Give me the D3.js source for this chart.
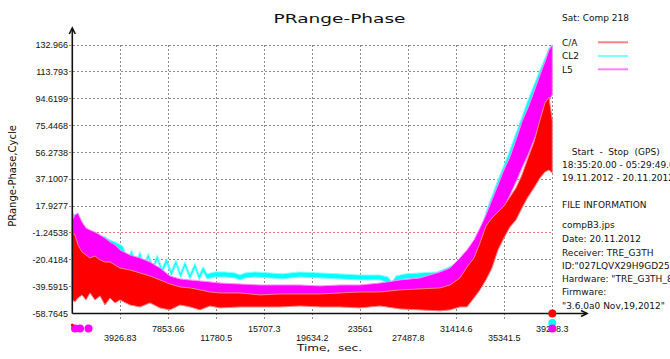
<!DOCTYPE html>
<html><head><meta charset="utf-8">
<script src="https://cdn.jsdelivr.net/npm/d3@7"></script>
<style>body{margin:0;background:#fff} svg{display:block} text{white-space:pre}</style>
</head><body><svg id="c" width="670" height="359"></svg>
<script>
// ---- tick values / labels ----
const yTicks = [-58.7645,-39.5915,-20.4184,-1.24538,17.9277,37.1007,56.2738,75.4468,94.6199,113.793,132.966];
const yTickLabels = ["-58.7645","-39.5915","-20.4184","-1.24538","17.9277","37.1007","56.2738","75.4468","94.6199","113.793","132.966"];
const xTicks = [0,3926.83,7853.66,11780.5,15707.3,19634.2,23561,27487.8,31414.6,35341.5,39268.3];
const xTickLabels = ["","3926.83","7853.66","11780.5","15707.3","19634.2","23561","27487.8","31414.6","35341.5","39268.3"];
const refLevel = -1.24538;

// ---- series (time in s, envelope high / low in cycles) ----
const tCommon = [0,221,466,793,1121,1448,1857,2266,2675,3084,3493,3902,4720,5538,6356,7174,7992,8810,9628,10446,11264,12082,13718,15354,16990,18626,20262,21898,23534,25170,26806,28442,30078,30896,31714,32287,32859,33350,33841,34332,34823,35314,35805,36295,36786,37277,37768,38259,38668,38996,39268];

const caHigh = [-1.3,-2.7,-9.8,-14.8,-17.0,-19.1,-17.7,-20.5,-22.0,-22.0,-24.1,-26.3,-27.7,-29.8,-32.0,-34.8,-37.7,-39.8,-40.5,-41.9,-43.4,-44.1,-44.1,-45.5,-44.8,-44.8,-44.8,-44.1,-43.4,-43.4,-41.9,-41.2,-40.5,-38.4,-33.4,-25.6,-19.1,-8.4,3.7,9.4,13.7,18.0,24.4,30.9,40.2,52.3,63.7,79.4,91.6,95.8,79.4];
const caLow  = [-49.1,-50.5,-47.7,-45.5,-49.1,-44.1,-49.1,-46.2,-52.7,-47.7,-51.2,-49.1,-52.7,-54.1,-51.2,-54.8,-56.2,-52.7,-54.1,-56.2,-53.4,-54.8,-54.1,-54.1,-54.1,-53.4,-54.1,-54.1,-54.8,-53.4,-55.5,-56.2,-56.9,-56.2,-54.1,-54.1,-47.7,-41.9,-34.8,-26.3,-13.4,-4.8,3.0,8.0,16.6,24.4,30.9,38.0,42.3,43.7,41.6];

const l5High = [8.0,11.6,13.0,6.6,2.3,0.8,-0.6,-2.7,-4.8,-7.7,-9.8,-13.4,-17.0,-19.1,-22.0,-26.3,-32.0,-34.1,-34.8,-35.5,-36.2,-37.0,-37.7,-38.4,-38.4,-38.4,-39.1,-38.4,-38.4,-37.0,-34.8,-33.4,-29.1,-26.3,-19.1,-13.4,-6.3,2.3,11.6,22.3,33.0,43.7,53.0,65.1,78.0,88.0,99.4,111.5,120.8,129.4,132.97];
const l5Low  = [-17.0,-22.0,-22.0,-24.1,-26.3,-27.7,-29.1,-30.5,-32.0,-32.7,-34.8,-36.2,-37.7,-39.1,-40.5,-41.9,-43.4,-44.1,-44.8,-45.5,-45.5,-46.2,-46.9,-47.7,-48.4,-47.7,-49.1,-49.1,-49.1,-49.8,-50.5,-51.2,-49.1,-45.5,-41.9,-38.4,-31.3,-22.0,-13.4,-2.7,6.6,16.6,25.9,35.1,45.1,54.4,65.1,75.8,86.6,93.7,97.3];

const tCL2 = [0,221,466,793,1121,1448,1857,2266,2675,3084,3493,3820,4172,4515,4859,5194,5537,5881,6217,6585,6953,7337,7722,8098,8483,8851,9219,9628,10037,10380,10716,11018,11673,12491,13309,13718,14127,14945,16172,17235,17808,18626,20262,21898,23534,25170,25825,26152,26479,27215,28442,29833,30651,31469,32287,32859,33350,33841,34332,34823,35314,35805,36295,36786,37277,37768,38259,38668,38996,39268];
const cl2High = [13.0,11.6,4.4,2.3,0.8,-0.6,-1.3,-2.7,-4.1,-6.3,-7.7,-9.1,-11.0,-20.7,-13.4,-22.5,-14.6,-23.7,-15.8,-24.9,-17.0,-26.7,-19.3,-28.5,-20.5,-29.7,-21.8,-30.9,-22.9,-31.2,-25.3,-30.5,-29.1,-29.1,-29.8,-31.3,-29.8,-29.1,-29.8,-30.5,-29.8,-29.1,-29.8,-30.5,-31.3,-31.3,-32.7,-36.2,-32.0,-30.5,-29.8,-29.1,-26.3,-22.7,-17.0,-12.0,-3.4,13.7,25.2,36.6,47.3,58.0,70.1,81.6,93.7,104.4,115.1,123.7,130.8,132.97];
const cl2Low  = [-6.3,-13.4,-19.1,-22.0,-24.1,-22.0,-19.1,-19.1,-20.5,-20.5,-22.0,-22.0,-14.6,-24.3,-17.0,-26.1,-18.2,-27.3,-19.4,-28.5,-20.6,-30.3,-22.9,-32.1,-24.1,-33.3,-25.4,-34.4,-26.5,-34.8,-28.9,-34.1,-32.7,-32.7,-33.4,-34.8,-33.4,-32.7,-33.4,-34.1,-33.4,-32.7,-33.4,-34.1,-34.8,-34.8,-37.0,-40.5,-35.5,-34.1,-33.4,-32.7,-32.0,-29.1,-26.3,-22.0,-13.4,-2.7,11.6,22.3,33.0,42.3,54.4,65.1,75.8,86.6,97.3,104.4,113.7,115.1];

// marks below the time axis (seconds)
const caMarks = [0, 39268.3];
const cl2Marks = [39268.3];
const l5Marks = [221, 630, 1325, 39268.3];

const seriesNames = ["C/A","CL2","L5"];
const infoLines = ["compB3.jps","Date: 20.11.2012","Receiver: TRE_G3TH","ID:\"027LQVX29H9GD25I","Hardware: \"TRE_G3TH_8","Firmware:","\"3.6.0a0 Nov,19,2012\""];

// ---- drawing ----
const svg = d3.select("#c");
svg.append("rect").attr("width",670).attr("height",359).attr("fill","#fff");
const x = d3.scaleLinear().domain([0,39268.3]).range([72.3,552.3]);
const y = d3.scaleLinear().domain([-58.7645,132.966]).range([313.5,45]);
const gridCol = "#8a8a8a";

// horizontal grid
yTicks.forEach((v,i)=>{
  if(i===0) return;
  svg.append("line").attr("x1",69).attr("x2",x(39268.3)).attr("y1",y(v)).attr("y2",y(v))
    .attr("stroke", v===refLevel ? "#f07070" : gridCol).attr("stroke-width",1)
    .attr("stroke-dasharray","2,2").attr("shape-rendering","crispEdges");
});
// vertical grid
xTicks.forEach((v,i)=>{
  if(i===0) return;
  svg.append("line").attr("x1",x(v)).attr("x2",x(v)).attr("y1",y(132.966))
    .attr("y2", i===xTicks.length-1 ? y(-58.7645) : 320)
    .attr("stroke",gridCol).attr("stroke-width",1).attr("stroke-dasharray","2,2")
    .attr("shape-rendering","crispEdges");
});

// series bands
function band(ts, hi, lo){ return ts.map((t,i)=>({t, hi:hi[i], lo:lo[i]})); }
const area = d3.area().x(d=>x(d.t)).y0(d=>y(d.lo)).y1(d=>y(d.hi));
const bands = [
  {data:band(tCL2,cl2High,cl2Low), fill:"#00ffff", edge:"#7fffff"},
  {data:band(tCommon,l5High,l5Low), fill:"#ff00ff", edge:"#ff88ff"},
  {data:band(tCommon,caHigh,caLow), fill:"#ff0000", edge:"#ff8080"}
];
bands.forEach(b=>{
  svg.append("path").attr("d",area(b.data)).attr("fill",b.fill)
    .attr("stroke",b.edge).attr("stroke-width",1).attr("stroke-linejoin","round");
});

// axes
const ax = svg.append("g").attr("stroke","#111").attr("stroke-width",1.6).attr("fill","none");
ax.append("line").attr("x1",x(0)).attr("x2",x(0)).attr("y1",y(-58.7645)).attr("y2",28);
ax.append("path").attr("d",`M${x(0)-3},${34} L${x(0)},${28} L${x(0)+3},${34}`);
ax.append("line").attr("x1",x(0)).attr("x2",587).attr("y1",y(-58.7645)).attr("y2",y(-58.7645));
ax.append("path").attr("d",`M${581},${y(-58.7645)-3} L${587},${y(-58.7645)} L${581},${y(-58.7645)+3}`);

// tick labels
const tickFont = "'Liberation Sans', Arial, sans-serif";
yTicks.forEach((v,i)=>{
  svg.append("text").attr("x",68).attr("y",y(v)).attr("dy","0.35em").attr("text-anchor","end")
    .attr("font-family",tickFont).attr("font-size",9).attr("fill","#111").text(yTickLabels[i]);
});
xTicks.forEach((v,i)=>{
  if(!xTickLabels[i]) return;
  svg.append("text").attr("x",x(v)).attr("y", i%2===1 ? 341 : 331.5).attr("text-anchor","middle")
    .attr("font-family",tickFont).attr("font-size",9).attr("fill","#111").text(xTickLabels[i]);
});

// marks under axis
const markRow = {"C/A":[325,313.5], "CL2":[323,323], "L5":[328.5,328.5]};
function drawMarks(ts, name, col){
  ts.forEach(t=>{
    const left = t < 20000;
    svg.append("circle").attr("cx",x(t)).attr("cy", left ? markRow[name][0] : markRow[name][1])
      .attr("r", (name==="C/A" && left) ? 1.5 : 4).attr("fill",col);
  });
}
drawMarks(cl2Marks,"CL2","#00ffff");
drawMarks(l5Marks,"L5","#ff00ff");
drawMarks(caMarks,"C/A","#ff0000");

// titles
svg.append("text").attr("x",273.5).attr("y",23).attr("textLength",132).attr("lengthAdjust","spacingAndGlyphs")
  .attr("font-family","'DejaVu Sans', sans-serif").attr("font-size",12).attr("fill","#111").text("PRange-Phase");
svg.append("text").attr("x",297).attr("y",351).attr("textLength",65).attr("lengthAdjust","spacingAndGlyphs")
  .attr("font-family","'DejaVu Sans', sans-serif").attr("font-size",9.5).attr("fill","#111").text("Time,  sec.");
svg.append("text").attr("transform","translate(15.5,176) rotate(-90)").attr("text-anchor","middle")
  .attr("font-family","'DejaVu Sans', sans-serif").attr("font-size",10).attr("fill","#111").text("PRange-Phase,Cycle");

// right panel
const rf = "'DejaVu Sans', sans-serif";
function rt(xp, yp, s){ svg.append("text").attr("x",xp).attr("y",yp).attr("font-family",rf).attr("font-size",9).attr("fill","#111").text(s); }
rt(562,20.8,"Sat: Comp 218");
const legCols = ["#ff8080","#80ffff","#ff80ff"];
const legY = [42.3,56,69.3];
seriesNames.forEach((n,i)=>{
  rt(562, legY[i]+3.3, n);
  svg.append("line").attr("x1",598).attr("x2",628).attr("y1",legY[i]).attr("y2",legY[i])
    .attr("stroke",legCols[i]).attr("stroke-width",2);
});
rt(571.7,154.5,"Start  -  Stop  (GPS)");
rt(562,167.5,"18:35:20.00 - 05:29:49.00");
rt(562,180.8,"19.11.2012 - 20.11.2012");
rt(562,207.5,"FILE INFORMATION");
const infoY = [225,238.3,252.3,265.7,279,291.7,306];
infoLines.forEach((s,i)=>rt(562, infoY[i]+3.4, s));
</script></body></html>
